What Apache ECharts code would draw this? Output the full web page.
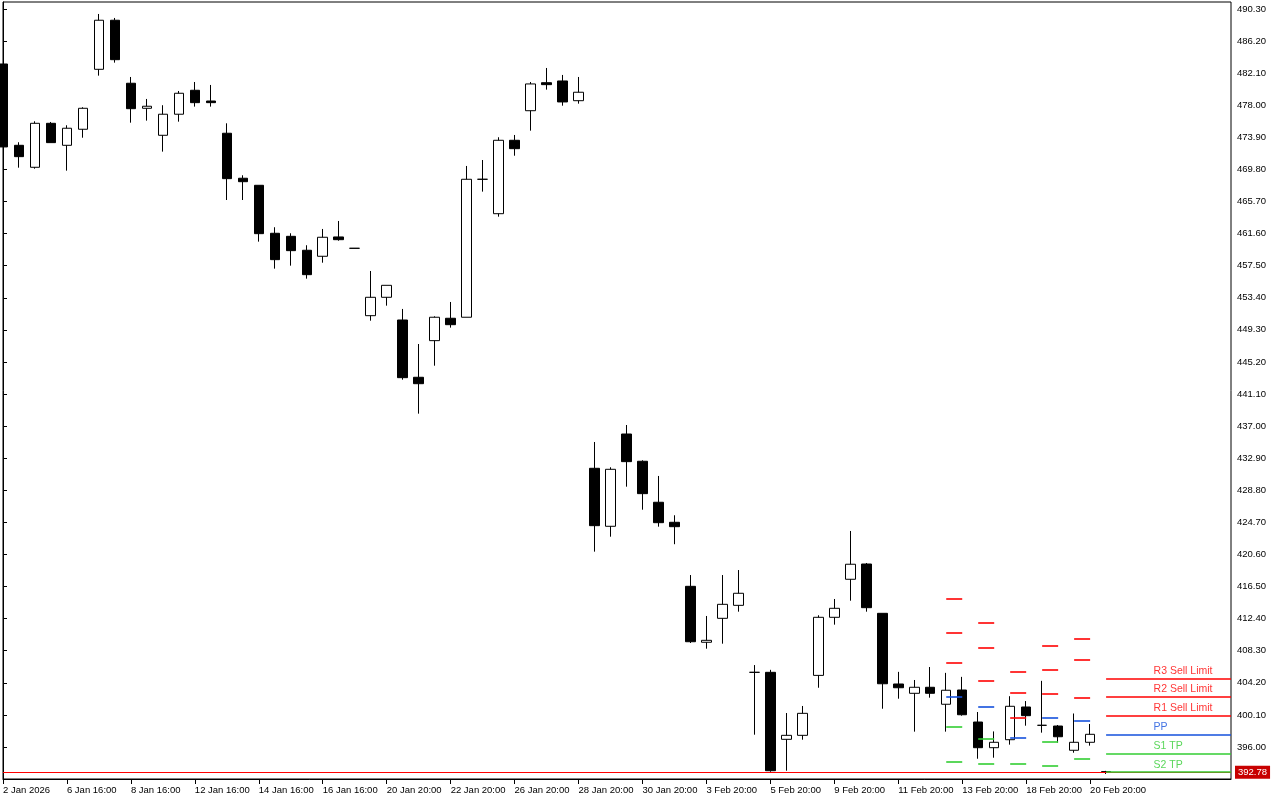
<!DOCTYPE html>
<html><head><meta charset="utf-8">
<script src="https://cdn.jsdelivr.net/npm/echarts@6/dist/echarts.min.js"></script>
<style>html,body{margin:0;padding:0;background:#fff}#c{width:1280px;height:800px}</style>
</head><body><div id="c"></div>
<script>
// ---- candle data (12h bars, index = bar number) ----
const opens  = [483.27,472.88,470.07,475.69,472.88,474.93,482.59,488.86,480.81,477.61,
                474.16,476.85,479.91,478.54,474.42,468.67,467.77,461.64,461.25,459.47,
                458.70,461.17,459.72,451.11,453.46,450.56,443.24,447.92,450.78,450.91,
                468.54,464.14,473.52,477.30,480.88,481.10,478.58,431.61,424.20,435.99,
                432.51,427.27,424.71,416.53,409.38,412.44,414.10,405.54,405.54,396.98,
                397.49,405.15,412.57,417.43,419.38,413.08,404.05,402.86,403.63,401.46,
                403.28,399.19,395.91,396.93,401.11,398.77,398.68,395.58,396.60,392.85];
const highs  = [483.27,473.27,475.95,475.86,475.44,477.74,489.66,489.15,481.61,478.80,
                478.00,479.82,480.97,480.59,475.69,469.05,467.77,462.41,461.64,460.11,
                462.19,463.21,459.72,456.82,454.99,451.97,447.49,451.03,452.86,470.24,
                471.00,473.91,474.20,480.97,482.76,481.87,481.61,434.97,431.74,437.14,
                432.63,430.63,425.61,417.97,412.74,417.97,418.61,406.47,405.86,400.34,
                401.24,412.83,414.91,423.60,419.51,413.08,405.60,404.56,406.22,405.47,
                404.96,400.47,397.99,402.49,401.87,404.45,398.81,400.28,398.94,392.95];
const lows   = [472.67,470.02,469.89,473.22,469.64,473.85,481.78,483.44,475.77,476.03,
                472.07,475.90,477.82,477.82,465.89,465.89,460.57,457.12,457.50,455.84,
                457.88,460.69,459.72,450.47,452.39,442.93,438.59,444.72,449.58,450.91,
                466.96,463.76,471.55,474.75,479.99,477.94,478.20,420.96,422.87,429.26,
                426.32,424.15,421.91,409.29,408.56,409.20,413.29,397.57,392.84,392.97,
                396.93,403.57,411.63,414.69,413.29,400.89,402.17,397.96,402.30,397.96,
                400.00,394.50,394.63,396.30,398.72,397.83,396.55,395.27,396.17,392.55];
const closes = [472.67,471.43,475.69,473.22,475.06,477.61,488.86,483.82,477.56,477.87,
                476.85,479.53,478.33,478.33,468.62,468.23,461.59,458.27,459.42,456.35,
                461.13,460.82,459.72,453.46,454.99,443.19,442.42,450.91,449.96,468.54,
                468.54,473.52,472.45,480.72,480.63,478.42,479.66,424.28,431.48,432.46,
                428.37,424.66,424.15,409.45,409.63,414.23,415.64,405.54,392.97,397.49,
                400.30,412.57,413.72,419.35,413.80,404.08,403.57,403.63,402.86,403.25,
                400.12,395.91,396.60,401.20,400.00,398.77,397.31,396.60,397.62,392.78];

// ---- axis tick labels ----
const xTickBars   = [0,4,8,12,16,20,24,28,32,36,40,44,48,52,56,60,64,68];
const xTickLabels = ['2 Jan 2026','6 Jan 16:00','8 Jan 16:00','12 Jan 16:00','14 Jan 16:00',
                     '16 Jan 16:00','20 Jan 20:00','22 Jan 20:00','26 Jan 20:00','28 Jan 20:00',
                     '30 Jan 20:00','3 Feb 20:00','5 Feb 20:00','9 Feb 20:00','11 Feb 20:00',
                     '13 Feb 20:00','18 Feb 20:00','20 Feb 20:00'];
const yTickValues = [396.00,400.10,404.20,408.30,412.40,416.50,420.60,424.70,428.80,432.90,
                     437.00,441.10,445.20,449.30,453.40,457.50,461.60,465.70,469.80,473.90,
                     478.00,482.10,486.20,490.30];

// ---- current price ----
const bidPrice = 392.78;

// ---- daily pivot levels (first bar of each day) ----
const pivotDayStart = [59, 61, 63, 65, 67, 69];
const pivotR3 = [414.91, 411.84, 405.67, 408.99, 409.89, 404.78];
const pivotR2 = [410.57, 408.65, 402.99, 405.84, 407.12, 402.48];
const pivotR1 = [406.73, 404.43, 399.79, 402.86, 402.26, 400.05];
const pivotPP = [402.39, 401.20, 397.24, 399.70, 399.41, 397.62];
const pivotS1 = [398.55, 397.11, 393.92, 396.73, 394.55, 395.19];
const pivotS2 = [394.17, 393.92, 391.27, 393.57, 391.74, 392.84];
const pivotNames = ['R3 Sell Limit', 'R2 Sell Limit', 'R1 Sell Limit', 'PP', 'S1 TP', 'S2 TP'];
const pivotLabelBar = 72;

// ---- build ----
const FONT = 'Liberation Sans, Arial, sans-serif';
const RED = '#ff0000', BLUE = '#1450dc', GREEN = '#32cd32';
const xMin = 0, xMax = 76.8125, yMin = 391.91, yMax = 491.19;

const candleData = opens.map((o, i) => [i, o, closes[i], lows[i], highs[i]]);
const levels = [pivotR3, pivotR2, pivotR1, pivotPP, pivotS1, pivotS2];
const levelColors = [RED, RED, RED, BLUE, GREEN, GREEN];

const segs = [];
levels.forEach((arr, li) => {
  arr.forEach((v, di) => {
    const x0 = pivotDayStart[di];
    const x1 = di === arr.length - 1 ? xMax : x0 + 1;
    segs.push([{ coord: [x0, v], lineStyle: { color: levelColors[li] } }, { coord: [x1, v] }]);
  });
});

const labelData = pivotNames.map((n, i) => ({
  value: [pivotLabelBar, levels[i][levels[i].length - 1]],
  name: n,
  label: { color: levelColors[i] }
}));

const chart = echarts.init(document.getElementById('c'), null, { renderer: 'canvas' });
chart.setOption({
  animation: false,
  backgroundColor: '#ffffff',
  grid: { left: 2, right: 49, top: 2, bottom: 21, show: true, borderColor: '#000', borderWidth: 1, backgroundColor: '#fff' },
  xAxis: {
    type: 'value', min: xMin, max: xMax,
    axisLine: { show: true, onZero: false, lineStyle: { color: '#000', width: 1 } },
    axisTick: { show: true, length: 5, customValues: xTickBars, lineStyle: { color: '#000' } },
    axisLabel: {
      customValues: xTickBars, align: 'left', margin: 6, color: '#000',
      fontFamily: FONT, fontSize: 9.5,
      formatter: v => { const k = xTickBars.indexOf(Math.round(v)); return k >= 0 ? xTickLabels[k] : ''; }
    },
    splitLine: { show: false }
  },
  yAxis: {
    type: 'value', position: 'right', min: yMin, max: yMax, scale: true,
    axisLine: { show: true, lineStyle: { color: '#000', width: 1 } },
    axisTick: { show: true, length: 4, customValues: yTickValues, lineStyle: { color: '#000' } },
    axisLabel: {
      customValues: yTickValues, margin: 6, color: '#000',
      fontFamily: FONT, fontSize: 9.5,
      formatter: v => Number(v).toFixed(2)
    },
    splitLine: { show: false }
  },
  series: [
    {
      type: 'candlestick',
      data: candleData,
      barWidth: 10,
      clip: true,
      itemStyle: {
        color: '#ffffff', color0: '#000000',
        borderColor: '#000000', borderColor0: '#000000', borderColorDoji: '#000000',
        borderWidth: 1
      },
      markLine: {
        silent: true, symbol: ['none', 'none'], animation: false,
        lineStyle: { color: RED, width: 1, type: 'solid' },
        label: {
          show: true, position: 'end', distance: 4,
          formatter: () => bidPrice.toFixed(2),
          backgroundColor: '#c80000', color: '#ffffff', padding: [2, 3, 1, 3],
          fontFamily: FONT, fontSize: 9.5
        },
        data: [{ yAxis: bidPrice }]
      }
    },
    {
      type: 'line', data: [], silent: true,
      markLine: {
        silent: true, symbol: ['none', 'none'], animation: false,
        lineStyle: { width: 1.6, type: 'solid' },
        label: { show: false },
        data: segs
      }
    },
    {
      type: 'scatter', silent: true, symbolSize: 1,
      itemStyle: { color: 'transparent' },
      data: labelData,
      label: {
        show: true, position: [0, -1], align: 'left', verticalAlign: 'bottom',
        fontFamily: FONT, fontSize: 10.5,
        formatter: p => p.name
      }
    }
  ]
});
</script>
</body></html>
